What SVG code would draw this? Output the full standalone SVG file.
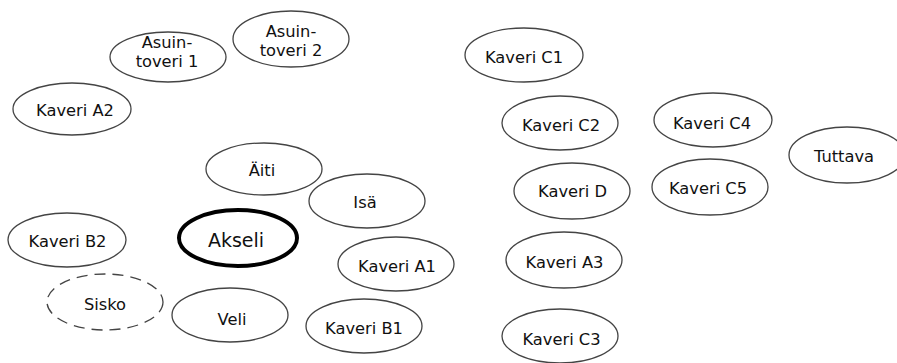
<svg xmlns="http://www.w3.org/2000/svg" width="897" height="363" viewBox="0 0 897 363">
<style>
.n ellipse{fill:#fff;stroke:#444;stroke-width:1.3}
.n text{font-family:"DejaVu Sans",sans-serif;font-size:16.3px;fill:#111;text-anchor:middle}
#akseli ellipse{stroke:#000;stroke-width:4}
#akseli text{font-size:19px}
#sisko ellipse{stroke-dasharray:11 7}
</style>
<rect width="897" height="363" fill="#fff"/>
<g id="connectors"/>
<g id="asuintoveri1" class="n"><ellipse cx="168" cy="57" rx="58" ry="25"/><text x="167" y="48">Asuin-</text><text x="167" y="67">toveri 1</text></g>
<g id="asuintoveri2" class="n"><ellipse cx="291" cy="39" rx="58" ry="28"/><text x="291" y="37">Asuin-</text><text x="291" y="56">toveri 2</text></g>
<g id="kaveriA2" class="n"><ellipse cx="72" cy="109" rx="59" ry="26"/><text x="75" y="116">Kaveri A2</text></g>
<g id="aiti" class="n"><ellipse cx="264" cy="169" rx="58" ry="26"/><text x="262" y="176">Äiti</text></g>
<g id="isa" class="n"><ellipse cx="367" cy="201" rx="58" ry="27"/><text x="365" y="208">Isä</text></g>
<g id="kaveriB2" class="n"><ellipse cx="67" cy="240" rx="59" ry="27"/><text x="67.5" y="247">Kaveri B2</text></g>
<g id="akseli" class="n"><ellipse cx="238" cy="238" rx="59" ry="28"/><text x="236" y="247">Akseli</text></g>
<g id="kaveriA1" class="n"><ellipse cx="396" cy="264" rx="58" ry="27"/><text x="397" y="272">Kaveri A1</text></g>
<g id="sisko" class="n"><ellipse cx="105" cy="302" rx="58" ry="28"/><text x="105" y="310">Sisko</text></g>
<g id="veli" class="n"><ellipse cx="230" cy="315" rx="58" ry="27"/><text x="232" y="325">Veli</text></g>
<g id="kaveriB1" class="n"><ellipse cx="364" cy="326" rx="58" ry="27"/><text x="364" y="334">Kaveri B1</text></g>
<g id="kaveriC1" class="n"><ellipse cx="524" cy="55" rx="59" ry="27"/><text x="524" y="63">Kaveri C1</text></g>
<g id="kaveriC2" class="n"><ellipse cx="560" cy="123" rx="58" ry="27"/><text x="561" y="131">Kaveri C2</text></g>
<g id="kaveriC4" class="n"><ellipse cx="713" cy="120" rx="59" ry="27"/><text x="712" y="129">Kaveri C4</text></g>
<g id="tuttava" class="n"><ellipse cx="847" cy="155" rx="58" ry="28"/><text x="844" y="162">Tuttava</text></g>
<g id="kaveriD" class="n"><ellipse cx="572" cy="191" rx="58" ry="28"/><text x="572.5" y="197">Kaveri D</text></g>
<g id="kaveriC5" class="n"><ellipse cx="710" cy="187" rx="58" ry="28"/><text x="708" y="194">Kaveri C5</text></g>
<g id="kaveriA3" class="n"><ellipse cx="564" cy="260" rx="58" ry="28"/><text x="564.5" y="268">Kaveri A3</text></g>
<g id="kaveriC3" class="n"><ellipse cx="560" cy="336" rx="58" ry="27"/><text x="561.5" y="345">Kaveri C3</text></g>
</svg>
